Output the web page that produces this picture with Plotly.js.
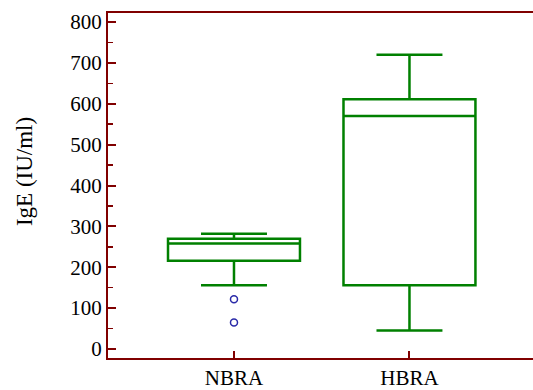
<!DOCTYPE html>
<html>
<head>
<meta charset="utf-8">
<script src="https://cdn.plot.ly/plotly-3.0.1.min.js"></script>
<style>
html,body{margin:0;padding:0;background:#fff;}
#chart{width:533px;height:390px;}
#chart text{font-family:'Liberation Serif', serif !important;}
</style>
</head>
<body>
<div id="chart"></div>
<script>
const categories = ["NBRA", "HBRA"];
const lowerFence = [156, 45];
const q1Values = [216, 156];
const medianValues = [258, 570];
const q3Values = [270, 611];
const upperFence = [282, 720];
const outlierCategory = ["NBRA", "NBRA"];
const outlierValues = [122, 65];
const yTickValues = [0, 100, 200, 300, 400, 500, 600, 700, 800];
const yMinorTickValues = [50, 150, 250, 350, 450, 550, 650, 750];
const yTitle = "IgE (IU/ml)";

const green = "#008000";
const maroon = "#800000";
const serif = "Liberation Serif";

const traces = [
  {
    type: "box",
    x: categories,
    q1: q1Values,
    median: medianValues,
    q3: q3Values,
    lowerfence: lowerFence,
    upperfence: upperFence,
    width: 0.752,
    whiskerwidth: 0.5,
    line: {color: green, width: 2.5},
    fillcolor: "rgba(0,0,0,0)",
    boxpoints: false,
    hoverinfo: "skip",
    showlegend: false
  },
  {
    type: "scatter",
    mode: "markers",
    x: outlierCategory,
    y: outlierValues,
    marker: {symbol: "circle-open", size: 7, color: "#2a2aa8", line: {width: 1.5, color: "#2a2aa8"}},
    hoverinfo: "skip",
    showlegend: false
  }
];

const layout = {
  width: 533,
  height: 390,
  margin: {l: 108, r: 0, t: 13, b: 32},
  paper_bgcolor: "#ffffff",
  plot_bgcolor: "#ffffff",
  font: {family: serif, size: 21, color: "#000"},
  xaxis: {
    type: "category",
    categoryorder: "array",
    categoryarray: categories,
    range: [-0.718, 1.704],
    showline: true,
    mirror: true,
    linecolor: maroon,
    linewidth: 2,
    ticks: "inside",
    ticklen: 7,
    tickwidth: 2,
    tickcolor: maroon,
    showgrid: false,
    zeroline: false,
    tickfont: {family: serif, size: 21, color: "#000"}
  },
  yaxis: {
    range: [-22, 822],
    tickvals: yTickValues,
    showline: true,
    linecolor: maroon,
    linewidth: 2,
    ticks: "inside",
    ticklen: 8,
    tickwidth: 2,
    tickcolor: maroon,
    minor: {tickvals: yMinorTickValues, ticks: "inside", ticklen: 5, tickwidth: 1.5, tickcolor: maroon, showgrid: false},
    showgrid: false,
    zeroline: false,
    tickfont: {family: serif, size: 21, color: "#000"}
  },
  annotations: [
    {
      text: yTitle,
      xref: "paper",
      yref: "paper",
      x: -0.1976,
      y: 0.539,
      xanchor: "center",
      yanchor: "middle",
      textangle: -90,
      showarrow: false,
      font: {family: serif, size: 23, color: "#000"}
    }
  ]
};

Plotly.newPlot("chart", traces, layout, {staticPlot: true, displayModeBar: false});
</script>
</body>
</html>
